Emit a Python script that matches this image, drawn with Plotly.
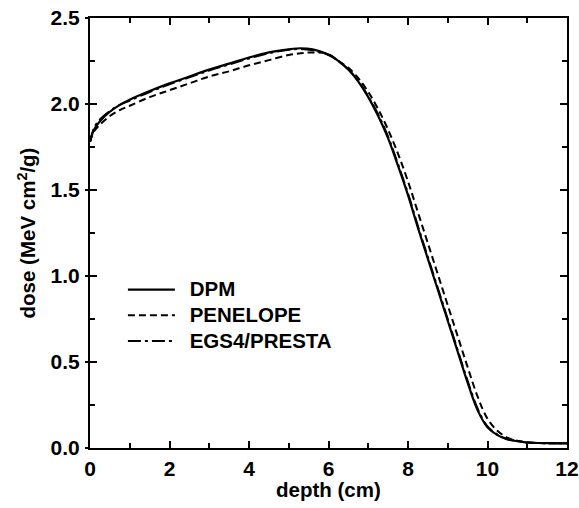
import plotly.graph_objects as go

depth = [0, 0.1, 0.25, 0.5, 0.75, 1, 1.5, 2, 2.5, 3, 3.5, 4, 4.5, 5, 5.3, 5.6, 6,
         6.25, 6.5, 6.75, 7, 7.25, 7.5, 7.75, 8, 8.25, 8.5, 8.75, 9, 9.25, 9.5, 9.75,
         10, 10.25, 10.5, 10.75, 11, 11.5, 12]
dpm = [1.78, 1.85, 1.90, 1.955, 1.995, 2.025, 2.075, 2.12, 2.16, 2.20, 2.235, 2.27, 2.30,
       2.318, 2.324, 2.318, 2.288,
       2.25, 2.20, 2.13, 2.04, 1.93, 1.80, 1.64, 1.47, 1.28, 1.10, 0.92, 0.74, 0.56, 0.38, 0.22,
       0.12, 0.075, 0.05, 0.04, 0.032, 0.028, 0.027]
penelope = [1.78, 1.84, 1.88, 1.93, 1.965, 1.99, 2.04, 2.08, 2.12, 2.16, 2.19, 2.225, 2.255,
            2.285, 2.295, 2.30, 2.29,
            2.25, 2.21, 2.15, 2.07, 1.97, 1.85, 1.71, 1.55, 1.37, 1.19, 1.01, 0.83, 0.65, 0.47, 0.30,
            0.17, 0.10, 0.06, 0.042, 0.033, 0.028, 0.027]
egs4 = [1.78, 1.86, 1.91, 1.96, 1.995, 2.02, 2.07, 2.115, 2.155, 2.195, 2.23, 2.265, 2.295,
        2.315, 2.32, 2.312, 2.285,
        2.25, 2.20, 2.135, 2.045, 1.94, 1.81, 1.65, 1.48, 1.29, 1.11, 0.93, 0.75, 0.57, 0.39, 0.23,
        0.125, 0.078, 0.052, 0.041, 0.032, 0.028, 0.027]
names = ["DPM", "PENELOPE", "EGS4/PRESTA"]
x_title = "depth (cm)"
y_title = "dose (MeV cm<sup>2</sup>/g)"

font = "Liberation Sans, Arial, sans-serif"
NB = "\u00a0\u00a0"


def leg(name):
    return NB + '<span style="font-size:20.5px">' + name + "</span>"


fig = go.Figure()
fig.add_trace(go.Scatter(x=depth, y=dpm, mode="lines", name=leg(names[0]),
                         line=dict(color="black", width=2.2, dash="solid", shape="spline")))
fig.add_trace(go.Scatter(x=depth, y=penelope, mode="lines", name=leg(names[1]),
                         line=dict(color="black", width=2, dash="7px,4px", shape="spline")))
fig.add_trace(go.Scatter(x=depth, y=egs4, mode="lines", name=leg(names[2]),
                         line=dict(color="black", width=2, dash="13px,4px,3px,4px", shape="spline")))
fig.add_trace(go.Scatter(x=[0], y=[0], yaxis="y2", mode="markers",
                         marker=dict(opacity=0), showlegend=False, hoverinfo="skip"))

axis_common = dict(showline=True, linecolor="black", linewidth=2, mirror="ticks",
                   ticks="inside", ticklen=7, tickwidth=2, tickcolor="black",
                   showgrid=False, zeroline=False, automargin=False,
                   tickfont=dict(family=font, size=21, color="black", weight="bold"))

fig.update_layout(
    width=579, height=508,
    margin=dict(l=90, r=12, t=18, b=60),
    plot_bgcolor="white", paper_bgcolor="white",
    font=dict(family=font, color="black"),
    xaxis=dict(range=[0, 12], dtick=2, tick0=0,
               minor=dict(ticks="inside", dtick=1, ticklen=5, tickwidth=1.5, tickcolor="black"),
               tickformat="d", ticklabelstandoff=1,
               **axis_common),
    yaxis=dict(range=[0, 2.5], dtick=0.5, tick0=0, tickformat=".1f",
               minor=dict(ticks="inside", dtick=0.25, ticklen=5, tickwidth=1.5, tickcolor="black"),
               title=dict(text=y_title, font=dict(family=font, size=20.5, weight="bold"), standoff=9),
               ticklabelstandoff=4,
               **axis_common),
    yaxis2=dict(range=[0, 2.5], dtick=0.5, tick0=0, overlaying="y", side="left",
                ticks="outside", ticklen=4, tickwidth=2, tickcolor="black", automargin=False,
                showticklabels=False, showline=False, showgrid=False, zeroline=False),
    legend=dict(x=0.069, y=0.41, xanchor="left", yanchor="top",
                bgcolor="rgba(0,0,0,0)", borderwidth=0,
                font=dict(family=font, size=17.5, color="black", weight="bold"),
                tracegroupgap=0, itemwidth=47),
    annotations=[dict(text=x_title, xref="paper", yref="paper", x=0.5, y=0,
                      xanchor="center", yanchor="top", yshift=-28, showarrow=False,
                      font=dict(family=font, size=20.5, color="black", weight="bold"))],
    showlegend=True,
)

fig.write_html("out.html")
